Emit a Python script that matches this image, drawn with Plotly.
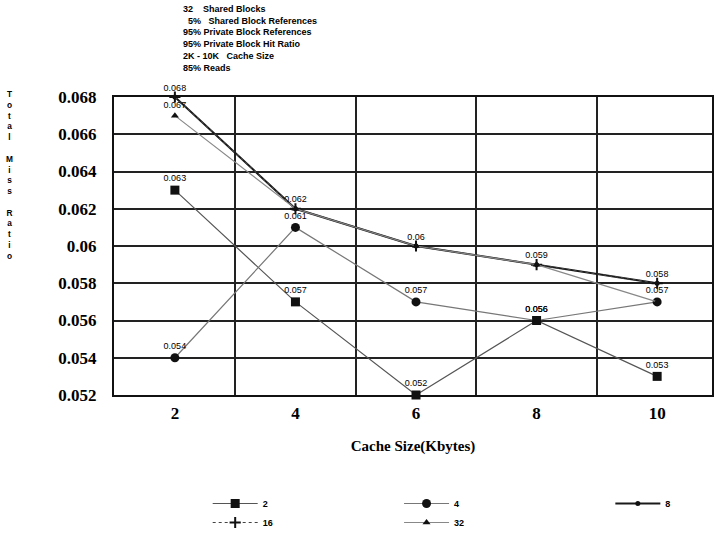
import plotly.graph_objects as go

# Cache sizes (Kbytes) on the x axis
cache_kb = [2, 4, 6, 8, 10]

# Total miss ratio for each number of processors
miss_2 = [0.063, 0.057, 0.052, 0.056, 0.053]
miss_4 = [0.054, 0.061, 0.057, 0.056, 0.057]
miss_8 = [0.068, 0.062, 0.060, 0.059, 0.058]
miss_16 = [0.068, 0.062, 0.060, 0.059, 0.058]
miss_32 = [0.067, 0.062, 0.060, 0.059, 0.057]

y_ticks = [0.052, 0.054, 0.056, 0.058, 0.06, 0.062, 0.064, 0.066, 0.068]


def labels(vals, keep=None):
    # value labels; coinciding points of other series are labelled only once
    return [str(v) if (keep is None or i in keep) else "" for i, v in enumerate(vals)]


# name, values, labels, line, marker, legend column
series = [
    ("2", miss_2, labels(miss_2), dict(color="#555555", width=1.2, dash="solid"),
     dict(symbol="square", size=9, color="#111111"), "legend"),
    ("4", miss_4, labels(miss_4), dict(color="#777777", width=1.2, dash="solid"),
     dict(symbol="circle", size=9, color="#111111"), "legend2"),
    ("8", miss_8, labels(miss_8), dict(color="#1a1a1a", width=2, dash="solid"),
     dict(symbol="circle", size=5, color="#111111"), "legend3"),
    ("16", miss_16, labels(miss_16, keep=[]), dict(color="#444444", width=1.2, dash="dot"),
     dict(symbol="cross-thin", size=8, color="#111111", line=dict(width=2, color="#111111")), "legend"),
    ("32", miss_32, labels(miss_32, keep=[0]), dict(color="#888888", width=1.2, dash="solid"),
     dict(symbol="triangle-up", size=7, color="#111111"), "legend2"),
]

fig = go.Figure()
for name, vals, txt, line, marker, lg in series:
    fig.add_trace(go.Scatter(
        x=cache_kb, y=vals, name=name,
        mode="lines+markers+text",
        text=txt,
        textposition="top center",
        textfont=dict(family="Liberation Sans", size=9, color="black"),
        line=line, marker=marker,
        cliponaxis=False,
        legend=lg,
    ))

serif = "Liberation Serif"
legend_font = dict(family="Liberation Sans", size=9, color="black", weight="bold")

PLOT_L, PLOT_W = 114, 600


def legend_box(x_px):
    return dict(
        orientation="v", xref="paper", yref="container",
        x=(x_px - PLOT_L) / PLOT_W, y=1 - 489 / 536, xanchor="left", yanchor="top",
        font=legend_font, tracegroupgap=0, itemwidth=45, bgcolor="rgba(0,0,0,0)",
    )


fig.update_layout(
    width=714, height=536,
    margin=dict(l=PLOT_L, r=0, t=97, b=141),
    paper_bgcolor="white", plot_bgcolor="white",
    showlegend=True,
    legend=legend_box(208),
    legend2=legend_box(400),
    legend3=legend_box(612),
    xaxis=dict(
        range=[0.99, 10.91],
        tickvals=cache_kb, ticktext=[str(v) for v in cache_kb],
        tickfont=dict(family=serif, size=17, color="black", weight="bold"),
        showgrid=False, zeroline=False,
        showline=True, linecolor="#111111", linewidth=2, mirror=True,
        ticks="", ticklabelstandoff=2,
        minor=dict(tickvals=[3, 5, 7, 9], showgrid=True, gridcolor="#222222", gridwidth=1.5, ticks=""),
        title=dict(text="Cache Size(Kbytes)", font=dict(family=serif, size=15, color="black", weight="bold"),
                   standoff=18),
    ),
    yaxis=dict(
        range=[0.052, 0.068],
        tickvals=y_ticks, ticktext=[f"{v:g}" for v in y_ticks],
        tickfont=dict(family=serif, size=17, color="black", weight="bold"),
        showgrid=True, gridcolor="#222222", gridwidth=1.6,
        zeroline=False,
        showline=True, linecolor="#111111", linewidth=2, mirror=True,
        ticks="", ticklabelstandoff=12,
    ),
)

# Stacked y-axis title
y_title = "<br>".join(list("Total") + [""] + list("Miss") + [""] + list("Ratio"))
fig.add_annotation(
    xref="paper", yref="paper", x=-0.175, y=1.0 + 10 / 298, xanchor="center", yanchor="top",
    text=y_title, showarrow=False, align="center",
    font=dict(family="Liberation Sans", size=8.3, color="black", weight="bold"),
)

# Simulation parameters block above the plot
params = ("32&nbsp;&nbsp;&nbsp;&nbsp;Shared Blocks<br>"
          "&nbsp;&nbsp;5%&nbsp;&nbsp;&nbsp;Shared Block References<br>"
          "95% Private Block References<br>"
          "95% Private Block Hit Ratio<br>"
          "2K - 10K&nbsp;&nbsp;&nbsp;Cache Size<br>"
          "85% Reads")
fig.add_annotation(
    xref="paper", yref="paper", x=0.112, y=1.0 + 95 / 298, xanchor="left", yanchor="top",
    text=params, showarrow=False, align="left",
    font=dict(family="Liberation Sans", size=9, color="black", weight="bold"),
)

fig.write_html("out.html")
